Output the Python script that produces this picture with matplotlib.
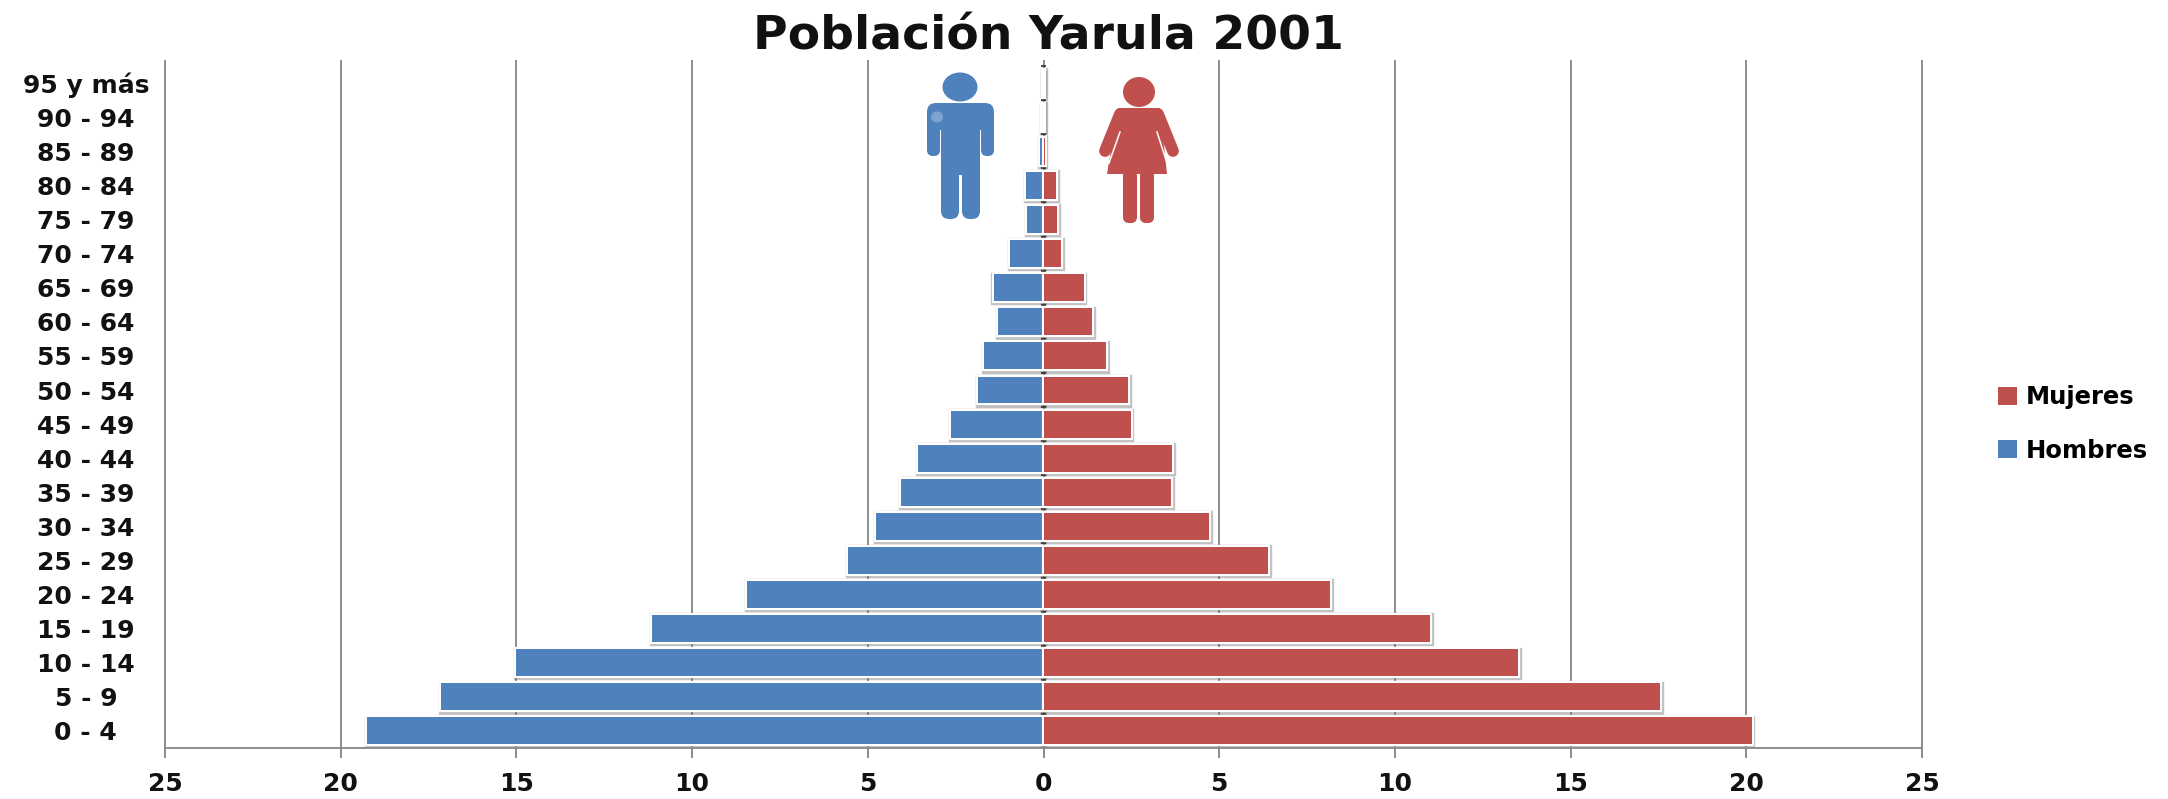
import numpy as np
import matplotlib
matplotlib.use("Agg")
import matplotlib.pyplot as plt
import matplotlib.patheffects as pe
from matplotlib.patches import Ellipse, FancyBboxPatch, Polygon

plt.rcParams["font.family"] = ["DejaVu Sans"]

# age groups, youngest first
grupos = ["0 - 4", "5 - 9", "10 - 14", "15 - 19", "20 - 24", "25 - 29", "30 - 34",
          "35 - 39", "40 - 44", "45 - 49", "50 - 54", "55 - 59", "60 - 64", "65 - 69",
          "70 - 74", "75 - 79", "80 - 84", "85 - 89", "90 - 94", "95 y más"]
hombres = [19.25, 17.15, 15.0, 11.15, 8.43, 5.55, 4.76, 4.05, 3.58, 2.64,
           1.85, 1.7, 1.3, 1.42, 0.95, 0.47, 0.5, 0.1, 0.05, 0.02]
mujeres = [20.15, 17.55, 13.5, 11.0, 8.15, 6.38, 4.72, 3.62, 3.66, 2.48,
           2.4, 1.77, 1.38, 1.14, 0.51, 0.39, 0.35, 0.03, 0.02, 0.01]
ticks_x = [-25, -20, -15, -10, -5, 0, 5, 10, 15, 20, 25]
etiquetas_x = ["25", "20", "15", "10", "5", "0", "5", "10", "15", "20", "25"]

azul = "#4F81BD"
rojo = "#C0504D"
gris = "#8C8C8C"
W, H = 2168, 799

fig = plt.figure(figsize=(W / 100, H / 100), dpi=100)
ax = fig.add_axes([165 / W, 1 - 748 / H, (1922 - 165) / W, (748 - 61) / H])

y = np.arange(len(grupos))
izq = -np.array(hombres)
der = np.array(mujeres)

# soft shadow layer first, then the bars with a white outline
sombra = [pe.Stroke(linewidth=4.6, foreground="#666666", alpha=0.4, offset=(0.6, -0.9))]
borde = [pe.Stroke(linewidth=3.0, foreground="white"), pe.Normal()]
for valores in [izq, der]:
    for b in ax.barh(y, valores, height=0.79, linewidth=0, zorder=2.5):
        b.set_path_effects(sombra)
b1 = ax.barh(y, izq, height=0.79, color=azul, linewidth=0, zorder=3, label="Hombres")
b2 = ax.barh(y, der, height=0.79, color=rojo, linewidth=0, zorder=3, label="Mujeres")
for b in list(b1) + list(b2):
    b.set_path_effects(borde)

ax.set_xlim(-25, 25)
ax.set_ylim(-0.5, 19.65)
ax.set_xticks(ticks_x)
ax.set_xticklabels(etiquetas_x, fontsize=18, fontweight="bold", color="#111111")
ax.set_yticks(y)
ax.set_yticklabels(grupos, fontsize=18, fontweight="bold", color="#111111")
for lab in ax.get_yticklabels():
    lab.set_ha("center")
ax.tick_params(axis="y", length=0, pad=57)
ax.tick_params(axis="x", length=7, width=1.4, color=gris, pad=10)
ax.grid(axis="x", color=gris, linewidth=1.4, zorder=0)
for g in ax.get_xgridlines():
    g.set_clip_on(False)
ax.set_axisbelow(True)
for s in ["top", "right", "left"]:
    ax.spines[s].set_visible(False)
ax.spines["bottom"].set_color(gris)
ax.spines["bottom"].set_linewidth(1.4)

# little ticks of the category axis, between the bars
ax.hlines(np.append(y[1:] - 0.5, 19.5), -0.07, 0.07, color="#333333", linewidth=1.2, zorder=2.7)

fig.text(1048 / W, 1 - 37 / H, "Población Yarula 2001", fontsize=34, fontweight="bold",
         ha="center", va="center", color="#111111")

fig.legend([b2, b1], ["Mujeres", "Hombres"], loc="center left", bbox_to_anchor=(1998 / W, 1 - 424 / H),
           frameon=False, prop={"size": 17.5, "weight": "bold"}, handlelength=0.8, handleheight=0.75,
           handletextpad=0.36, labelspacing=1.2, borderpad=0, borderaxespad=0)

# the two icons, drawn in image pixels on a see-through overlay
capa = fig.add_axes([0, 0, 1, 1], facecolor="none")
capa.set_xlim(0, W)
capa.set_ylim(H, 0)
capa.axis("off")


def caja(x0, y0, x1, y1, color, r=8):
    capa.add_patch(FancyBboxPatch((x0 + r, y0 + r), x1 - x0 - 2 * r, y1 - y0 - 2 * r,
                                  boxstyle="round,pad=%d" % r, fc=color, ec="none"))


# man
capa.add_patch(Ellipse((960, 87), 35, 29, fc=azul, ec="none"))
caja(927, 103, 994, 130, azul, 9)
caja(927, 110, 940, 156, azul, 6)
caja(981, 110, 994, 156, azul, 6)
caja(941, 115, 980, 175, azul, 2)
caja(941, 150, 959, 219, azul, 8)
caja(962, 150, 980, 219, azul, 8)
capa.add_patch(Ellipse((937, 117), 12, 11, fc="#7FA3CF", ec="none"))

# woman
capa.add_patch(Ellipse((1139, 92), 32, 30, fc=rojo, ec="none"))
capa.add_patch(Polygon([[1118, 108], [1160, 108], [1167, 174], [1107, 174]], fc=rojo, ec="none"))
capa.plot([1120, 1105], [114, 151], color=rojo, lw=8.5, solid_capstyle="round")
capa.plot([1158, 1173], [114, 151], color=rojo, lw=8.5, solid_capstyle="round")
capa.plot([1120, 1109], [132, 163], color="white", lw=1.1)
capa.plot([1157, 1167], [132, 163], color="white", lw=1.1)
caja(1123, 170, 1137, 223, rojo, 6)
caja(1140, 170, 1154, 223, rojo, 6)
capa.set_xlim(0, W)
capa.set_ylim(H, 0)

fig.savefig("out.png", dpi=100)
